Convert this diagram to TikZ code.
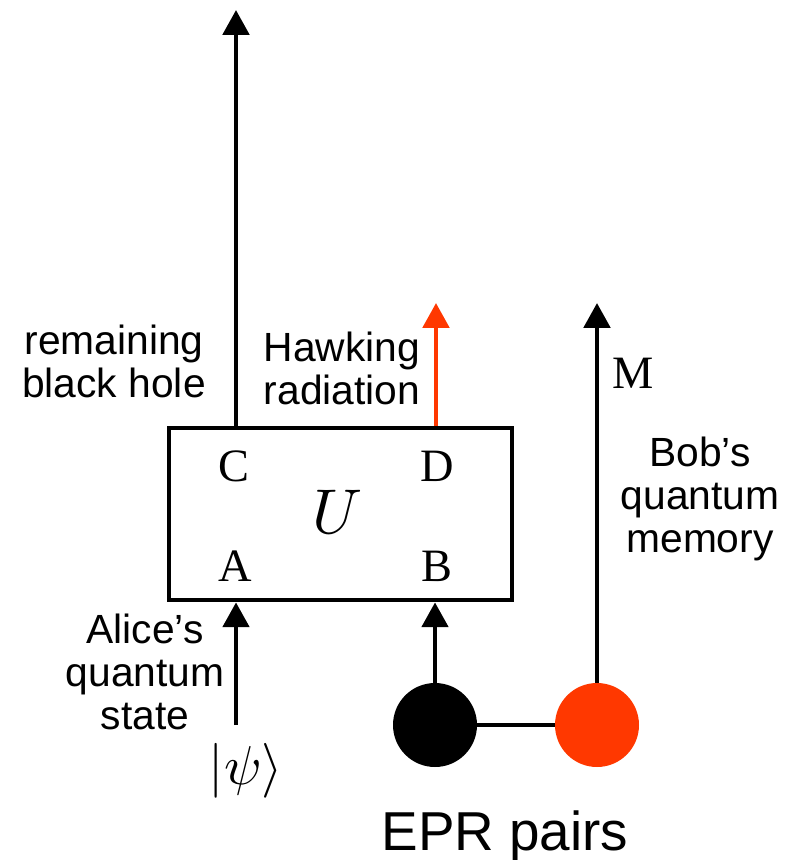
\documentclass[tikz,border=0pt]{standalone}
\usepackage{fontspec}
\setsansfont{Liberation Sans}
\newfontfamily\portfont{Liberation Serif}
\definecolor{HawkRed}{RGB}{255,56,0}
\usetikzlibrary{
  arrows.meta,
  positioning
}

\begin{document}
\begin{tikzpicture}[
  caption/.style={
    font=\sffamily\fontsize{29}{30.6}\selectfont,
    align=center, inner sep=0pt},
  port/.style={
    font=\portfont\fontsize{33}{36}\selectfont, inner sep=0pt},
  unitary/.style={
    draw, line width=3pt,
    minimum width=8.575cm,
    minimum height=4.3125cm},
  qubit/.style={
    circle, minimum size=2.1cm, inner sep=0pt},
  arrow/.style={
    -{Triangle[length=0.62cm, width=0.65cm]},
    line width=3.4pt}
]
\useasboundingbox (0,0) rectangle (19.725,-21.5);

\node[unitary] (box) at (8.5125,-12.85) {};
\node[scale=4.5, inner sep=0pt] (U) at (8.45,-12.8) {$U$};
\node[port] (C) at (5.85,-11.65) {C};
\node[port] (D) at (10.925,-11.65) {D};
\node[port] (A) at (5.875,-14.15) {A};
\node[port] (B) at (10.925,-14.15) {B};

\node[qubit, fill=black] (epr1) at (10.875,-18.125) {};
\node[qubit, fill=HawkRed] (epr2) at (14.925,-18.125) {};

\coordinate (bhout) at (5.9,-0.25);
\coordinate (hawk) at (10.9,-7.575);
\coordinate (mem) at (14.925,-7.575);
\coordinate (psiin) at (5.9,-18.125);

\node[caption] (bh) at (2.85,-9.025) {remaining\\black hole};
\node[caption] (hr) at (8.55,-9.2) {Hawking\\radiation};
\node[port] (M) at (15.825,-9.325) {M};
\node[caption] (bob) at (17.5,-12.475) {Bob's\\quantum\\memory};
\node[caption] (alice) at (3.625,-16.8) {Alice's\\quantum\\state};
\node[scale=3.9, inner sep=0pt] (psi) at (6.15,-19.275)
  {$\vert\psi\rangle$};
\node[caption, font=\sffamily\fontsize{39}{44}\selectfont] (epr)
  at (12.625,-20.9) {EPR pairs};

\draw[arrow] (box.north -| bhout) -- (bhout);
\draw[arrow, HawkRed] (box.north -| hawk) -- (hawk);
\draw[arrow] (psiin) -- (box.south -| psiin);
\draw[arrow] (epr1) -- (box.south -| epr1);
\draw[arrow] (epr2) -- (mem);
\draw[line width=3pt] (epr1) -- (epr2);

\end{tikzpicture}
\end{document}
